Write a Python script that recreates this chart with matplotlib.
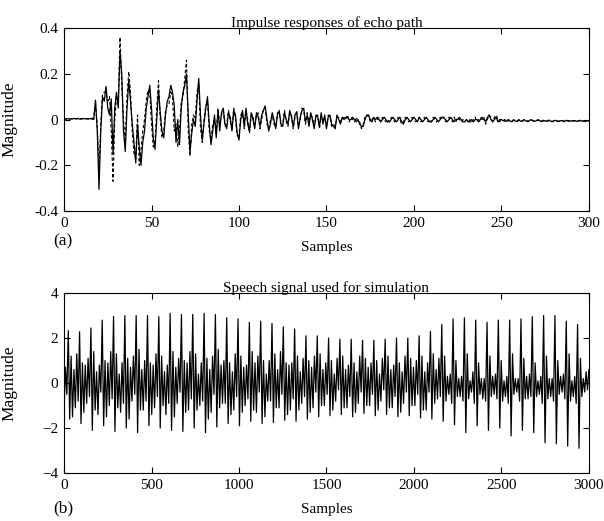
import numpy as np
import matplotlib
matplotlib.use('Agg')
import matplotlib.pyplot as plt

plt.rcParams['font.family'] = 'Liberation Serif'
plt.rcParams['font.size'] = 11

# echo path impulse responses, samples 0..300 (solid and dashed curves)
h_solid = [
    0.000, 0.003, 0.004, 0.002, 0.004, 0.003, 0.005, 0.003, 0.004, 0.002,
    0.004, 0.005, 0.003, 0.004, 0.002, 0.005, 0.003, 0.000, 0.085, -0.05,
    -0.305, -0.05, 0.10, 0.08, 0.145, 0.05, 0.02, 0.09, -0.15, 0.05,
    0.12, 0.05, 0.30, 0.20, -0.05, -0.14, 0.05, 0.17, 0.08, -0.02,
    -0.10, -0.19, -0.02, -0.12, -0.20, -0.10, -0.05, 0.05, 0.10, 0.15,
    0.05, -0.08, -0.13, 0.00, 0.13, 0.03, -0.05, -0.08, 0.02, 0.08,
    0.10, 0.15, 0.12, 0.06, -0.10, 0.00, -0.11, 0.05, 0.12, 0.15,
    0.20, 0.02, -0.14, -0.06, 0.00, -0.03, 0.08, 0.18, 0.02, -0.09,
    -0.02, 0.05, 0.10, -0.02, -0.11, -0.05, 0.02, -0.08, 0.04, -0.05,
    0.03, 0.05, -0.02, -0.04, 0.03, 0.01, -0.05, 0.04, 0.02, -0.06,
    -0.09, 0.00, 0.04, -0.03, 0.05, -0.02, -0.05, 0.03, 0.00, -0.04,
    0.03, 0.01, -0.03, 0.02, 0.04, 0.06, 0.00, -0.05, -0.02, 0.03,
    0.00, -0.04, 0.02, 0.04, -0.02, -0.03, 0.03, 0.00, -0.02, 0.04,
    0.01, -0.03, 0.02, 0.03, -0.04, 0.01, 0.04, 0.05, -0.01, 0.02,
    -0.03, 0.03, 0.00, -0.04, 0.02, 0.01, -0.03, 0.03, -0.02, 0.02,
    -0.04, 0.01, 0.02, -0.02, -0.03, -0.04, 0.02, 0.00, -0.02, 0.01,
    0.00, 0.01, 0.01, 0.00, 0.00, 0.01, 0.00, -0.01, 0.00, -0.02,
    -0.03, -0.03, 0.00, 0.02, 0.02, 0.00, -0.01, 0.01, 0.00, 0.01,
    0.00, -0.01, 0.00, 0.01, 0.00, -0.01, -0.01, 0.00, 0.01, 0.00,
    -0.01, 0.00, 0.01, -0.01, -0.02, 0.00, 0.01, 0.00, -0.01, 0.00,
    0.01, 0.00, -0.01, 0.01, 0.00, -0.01, 0.00, 0.01, 0.00, -0.01,
    -0.01, 0.00, 0.01, 0.00, -0.01, 0.00, 0.01, 0.01, 0.00, -0.01,
    0.00, 0.01, 0.00, -0.01, 0.00, 0.00, 0.01, 0.00, -0.01, -0.01,
    0.00, -0.01, -0.01, 0.00, -0.01, 0.00, 0.00, -0.01, 0.00, 0.01,
    0.00, -0.01, 0.01, 0.02, 0.00, -0.01, 0.00, 0.01, -0.01, 0.00,
    0.00, -0.005, 0.00, -0.008, 0.00, -0.006, -0.01, 0.00, -0.008, -0.006,
    0.00, -0.008, -0.005, 0.00, -0.006, -0.01, -0.004, 0.00, -0.006, -0.008,
    -0.004, 0.00, -0.006, -0.009, -0.003, -0.006, -0.008, -0.002, -0.006, -0.01,
    -0.005, -0.003, -0.007, -0.008, -0.004, -0.006, -0.009, -0.003, -0.006, -0.008,
    -0.005, -0.007, -0.004, -0.008, -0.006, -0.003, -0.007, -0.006, -0.008, -0.005,
    -0.006,
]

h_dashed = [
    0.000, 0.002, 0.005, 0.003, 0.002, 0.005, 0.003, 0.004, 0.006, 0.003,
    0.002, 0.004, 0.006, 0.003, 0.004, 0.002, 0.004, 0.010, 0.070, -0.03,
    -0.22, -0.02, 0.11, 0.12, 0.12, 0.08, 0.10, -0.05, -0.27, 0.00,
    0.10, 0.08, 0.36, 0.15, 0.00, -0.10, 0.10, 0.21, 0.12, -0.05,
    -0.15, -0.17, 0.02, -0.20, -0.13, -0.05, 0.00, 0.08, 0.13, 0.12,
    -0.02, -0.12, -0.10, 0.05, 0.17, 0.00, -0.08, -0.05, 0.04, 0.06,
    0.07, 0.12, 0.10, -0.05, -0.02, -0.12, -0.05, 0.08, 0.10, 0.18,
    0.26, -0.05, -0.16, -0.02, 0.02, 0.00, 0.12, 0.16, -0.04, -0.10,
    0.00, 0.06, 0.08, -0.05, -0.09, -0.02, 0.00, -0.06, 0.05, -0.02,
    0.02, 0.04, -0.03, -0.02, 0.04, -0.01, -0.04, 0.05, 0.00, -0.07,
    -0.07, 0.02, 0.03, -0.04, 0.04, 0.00, -0.06, 0.02, 0.02, -0.03,
    0.02, 0.03, -0.04, 0.00, 0.05, 0.05, -0.02, -0.04, 0.00, 0.02,
    -0.02, -0.03, 0.03, 0.03, -0.03, -0.02, 0.04, -0.01, -0.03, 0.03,
    0.02, -0.04, 0.01, 0.04, -0.03, 0.00, 0.05, 0.04, -0.02, 0.03,
    -0.02, 0.02, 0.01, -0.03, 0.01, 0.02, -0.04, 0.02, -0.01, 0.01,
    -0.03, 0.02, 0.01, -0.03, -0.02, -0.03, 0.01, 0.01, -0.01, 0.00,
    0.01, 0.00, 0.02, -0.01, 0.01, 0.00, -0.01, 0.01, -0.01, -0.01,
    -0.04, -0.02, 0.01, 0.01, 0.02, -0.01, 0.00, 0.01, -0.01, 0.00,
    0.01, -0.01, 0.01, 0.00, -0.01, 0.00, -0.01, 0.01, 0.00, -0.01,
    0.00, 0.01, 0.00, -0.02, -0.01, 0.01, 0.00, -0.01, 0.00, 0.01,
    0.00, -0.01, 0.00, 0.01, -0.01, 0.00, 0.01, 0.00, -0.01, 0.00,
    -0.01, 0.01, 0.00, -0.01, 0.00, 0.01, 0.00, 0.01, -0.01, 0.00,
    0.01, 0.00, -0.01, 0.01, -0.01, 0.01, 0.00, -0.01, 0.00, -0.01,
    0.00, -0.01, 0.00, -0.01, 0.00, 0.01, -0.01, 0.00, 0.01, 0.00,
    0.01, -0.02, 0.00, 0.02, 0.01, -0.01, 0.01, 0.02, 0.00, -0.01,
    0.00, -0.004, -0.008, 0.00, -0.006, -0.004, -0.008, -0.002, -0.006, -0.009,
    -0.003, -0.006, -0.008, -0.002, -0.007, -0.005, -0.009, -0.004, -0.003, -0.007,
    -0.006, -0.002, -0.008, -0.005, -0.006, -0.009, -0.004, -0.006, -0.003, -0.008,
    -0.006, -0.004, -0.009, -0.005, -0.003, -0.007, -0.006, -0.008, -0.004, -0.006,
    -0.007, -0.004, -0.006, -0.009, -0.005, -0.006, -0.004, -0.007, -0.008, -0.006,
    -0.005,
]

# speech signal, read every ~8 samples over 0..3000 (one line per pitch period)
speech = [
    -1.3, 0.7, -0.5, 2.33, -1.6, 1.2, -1.5, 0.6,
    -1.1, 1.3, -0.8, 2.28, -1.8, 0.9, -1.3, 0.8,
    -0.9, 1.1, -0.6, 2.45, -2.1, 1.4, -1.2, 0.5,
    -1.4, 0.8, -0.4, 2.80, -1.9, 1.0, -1.5, 0.9,
    -1.0, 1.4, -0.7, 2.96, -2.15, 1.3, -1.1, 0.4,
    -1.3, 0.9, -0.9, 3.00, -2.0, 1.1, -1.6, 0.7,
    -0.8, 1.2, -0.5, 3.00, -2.2, 1.5, -1.2, 0.6,
    -1.2, 1.0, -0.8, 3.00, -1.9, 0.9, -1.4, 0.8,
    -1.1, 1.3, -0.6, 2.95, -2.0, 1.2, -1.0, 0.5,
    -1.4, 0.8, -0.9, 3.10, -2.1, 1.4, -1.5, 0.7,
    -0.9, 1.1, -0.4, 3.05, -2.15, 1.0, -1.3, 0.9,
    -1.2, 1.4, -0.7, 3.05, -2.0, 1.3, -1.2, 0.4,
    -1.0, 0.9, -0.8, 3.10, -2.2, 1.1, -1.6, 0.6,
    -1.3, 1.2, -0.5, 3.05, -1.95, 1.5, -1.1, 0.8,
    -0.9, 1.0, -0.9, 2.90, -1.8, 0.9, -1.4, 0.5,
    -1.2, 1.3, -0.6, 2.85, -1.9, 1.2, -1.3, 0.7,
    -1.0, 0.8, -0.7, 2.70, -1.7, 1.4, -1.2, 0.9,
    -1.3, 1.2, -0.4, 2.75, -1.8, 1.0, -1.5, 0.4,
    -0.8, 1.0, -0.8, 2.65, -1.75, 1.3, -1.1, 0.6,
    -1.1, 1.4, -0.5, 2.50, -1.65, 0.9, -1.4, 0.8,
    -1.2, 0.9, -0.7, 2.40, -1.7, 1.2, -1.2, 0.5,
    -0.9, 1.1, -0.6, 2.10, -1.6, 1.0, -1.3, 0.7,
    -1.1, 1.2, -0.4, 2.10, -1.5, 1.3, -1.0, 0.6,
    -1.0, 0.9, -0.5, 2.00, -1.45, 1.0, -1.2, 0.4,
    -0.8, 1.1, -0.3, 1.95, -1.4, 1.2, -1.1, 0.6,
    -1.1, 0.8, -0.6, 1.95, -1.5, 0.9, -1.3, 0.5,
    -0.9, 1.2, -0.4, 1.90, -1.35, 1.1, -1.0, 0.7,
    -1.0, 0.9, -0.5, 1.90, -1.45, 1.0, -1.2, 0.4,
    -0.8, 1.1, -0.3, 1.95, -1.4, 1.2, -1.1, 0.6,
    -1.1, 0.8, -0.6, 2.00, -1.5, 0.9, -1.3, 0.5,
    -0.9, 1.2, -0.4, 2.00, -1.45, 1.1, -1.0, 0.7,
    -1.0, 1.0, -0.5, 2.10, -1.55, 1.2, -1.2, 0.5,
    -1.2, 0.9, -0.4, 2.30, -1.6, 1.3, -0.9, 0.6,
    -0.7, 1.1, -0.6, 2.60, -1.7, 1.2, -0.8, 0.3,
    -0.5, 0.4, -0.9, 2.85, -1.85, 1.0, -0.6, 0.2,
    -0.6, 0.3, -0.8, 2.90, -2.2, 1.3, -0.7, 0.1,
    -0.4, 0.5, -0.9, 2.80, -1.9, 0.9, -0.5, 0.2,
    -0.7, 0.2, -0.8, 2.70, -2.1, 1.2, -0.6, 0.3,
    -0.5, 0.4, -0.7, 2.80, -2.0, 1.0, -0.8, 0.1,
    -0.6, 0.3, -0.9, 2.80, -2.35, 1.3, -0.5, 0.2,
    -0.4, 0.2, -0.8, 2.85, -2.1, 1.1, -0.7, 0.3,
    -0.7, 0.4, -0.6, 2.95, -2.2, 0.9, -0.6, 0.1,
    -0.5, 0.3, -0.9, 3.00, -2.65, 1.2, -0.7, 0.2,
    -0.6, 0.2, -0.8, 3.00, -2.7, 1.0, -0.5, 0.3,
    -0.4, 0.4, -0.7, 2.75, -2.8, 1.3, -0.8, 0.1,
    -0.6, 0.3, -0.9, 2.60, -2.9, 1.1, -0.6, 0.2,
    -0.4, 0.5, -0.3, 0.6,
]

ir_n = np.arange(len(h_solid))
sp_n = np.linspace(0, 3000, len(speech))


def style_axes(ax):
    ax.tick_params(direction='in', top=True, right=True, length=4, width=0.8, pad=4)
    for s in ax.spines.values():
        s.set_linewidth(0.8)
    ax.yaxis.set_label_coords(-0.088, 0.5)


fig = plt.figure(figsize=(6.04, 5.21), dpi=100)

# (a) impulse responses
ax1 = plt.axes([0.106, 0.595, 0.869, 0.351])
ax1.plot(ir_n, h_solid, color='black', linewidth=0.9)
ax1.plot(ir_n, h_dashed, color='black', linewidth=0.8, linestyle=(0, (3, 2)))
ax1.set_xlim(0, 300)
ax1.set_ylim(-0.4, 0.4)
ax1.set_xticks([0, 50, 100, 150, 200, 250, 300])
ax1.set_yticks([-0.4, -0.2, 0, 0.2, 0.4])
ax1.set_yticklabels(['-0.4', '-0.2', '0', '0.2', '0.4'])
ax1.set_title('Impulse responses of echo path', pad=1, fontsize=11)
ax1.set_xlabel('Samples', labelpad=8)
ax1.set_ylabel('Magnitude', fontsize=12.5)
style_axes(ax1)
fig.text(0.088, 0.537, '(a)', ha='left', va='center', fontsize=12.5)

# (b) speech signal
ax2 = plt.axes([0.106, 0.092, 0.869, 0.3455])
ax2.plot(sp_n, speech, color='black', linewidth=0.9)
ax2.set_xlim(0, 3000)
ax2.set_ylim(-4, 4)
ax2.set_xticks([0, 500, 1000, 1500, 2000, 2500, 3000])
ax2.set_yticks([-4, -2, 0, 2, 4])
ax2.set_title('Speech signal used for simulation', pad=1, fontsize=11)
ax2.set_xlabel('Samples', labelpad=8)
ax2.set_ylabel('Magnitude', fontsize=12.5)
style_axes(ax2)
fig.text(0.088, 0.025, '(b)', ha='left', va='center', fontsize=12.5)

plt.savefig('out.png', dpi=100)
